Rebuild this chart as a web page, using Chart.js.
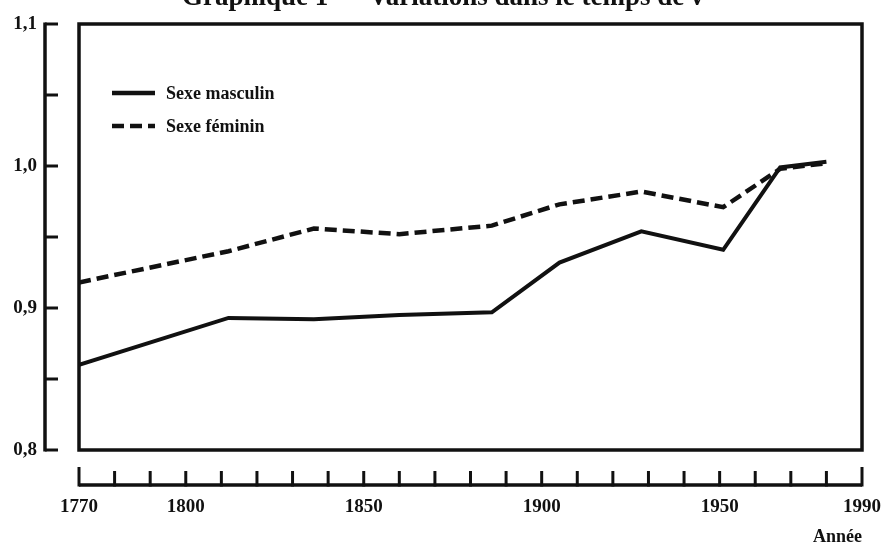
<!DOCTYPE html>
<html>
<head>
<meta charset="utf-8">
<script src="https://cdn.jsdelivr.net/npm/chart.js@4/dist/chart.umd.min.js"></script>
<style>
  html, body { margin: 0; padding: 0; background: #fff; }
  #wrap { width: 885px; height: 552px; position: relative; }
</style>
</head>
<body>
<div id="wrap"><canvas id="c" width="885" height="552"></canvas></div>
<script>
// ---- data ----
const chartTitle = "Graphique 1 — Variations dans le temps de ν";
const years = [1770, 1812, 1836, 1860, 1886, 1905, 1928, 1951, 1967, 1980];
const masculin = [0.860, 0.893, 0.892, 0.895, 0.897, 0.932, 0.954, 0.941, 0.999, 1.003];
const feminin = [0.918, 0.940, 0.956, 0.952, 0.958, 0.973, 0.982, 0.971, 0.998, 1.002];
const seriesLabels = ["Sexe masculin", "Sexe féminin"];
const xTickYears = [1770, 1780, 1790, 1800, 1810, 1820, 1830, 1840, 1850, 1860, 1870, 1880, 1890, 1900, 1910, 1920, 1930, 1940, 1950, 1960, 1970, 1980, 1990];
const xLabelYears = [1770, 1800, 1850, 1900, 1950, 1990];
const yTickValues = [0.80, 0.85, 0.90, 0.95, 1.00, 1.05, 1.10];
const yLabelValues = [0.8, 0.9, 1.0, 1.1];
const xAxisTitle = "Année";

const FONT = "'Liberation Serif', 'Times New Roman', serif";
const INK = '#111';

const decorPlugin = {
  id: 'decor',
  afterDraw(chart) {
    const ctx = chart.ctx;
    const ca = chart.chartArea;
    const xs = chart.scales.x, ys = chart.scales.y;
    ctx.save();
    ctx.strokeStyle = INK;
    ctx.fillStyle = INK;
    ctx.lineCap = 'butt';
    // frame round plot area
    ctx.lineWidth = 3.5;
    ctx.strokeRect(ca.left, ca.top, ca.right - ca.left, ca.bottom - ca.top);

    // separate y axis line with ticks to the right
    const axX = ca.left - 34;
    const yTop = ys.getPixelForValue(ys.max), yBot = ys.getPixelForValue(ys.min);
    ctx.lineWidth = 3.5;
    ctx.beginPath();
    ctx.moveTo(axX, yTop - 1.5); ctx.lineTo(axX, yBot + 1.5);
    ctx.stroke();
    ctx.lineWidth = 3;
    yTickValues.forEach(v => {
      const py = ys.getPixelForValue(v);
      ctx.beginPath(); ctx.moveTo(axX, py); ctx.lineTo(axX + 13, py); ctx.stroke();
    });

    // separate x axis line with ticks upward
    const axY = ca.bottom + 35;
    ctx.lineWidth = 3.5;
    ctx.beginPath();
    ctx.moveTo(xs.getPixelForValue(xs.min), axY); ctx.lineTo(xs.getPixelForValue(xs.max), axY);
    ctx.stroke();
    ctx.lineWidth = 3;
    xTickYears.forEach((v, i) => {
      const px = xs.getPixelForValue(v);
      const len = (i === 0 || i === xTickYears.length - 1) ? 18 : 14;
      ctx.beginPath(); ctx.moveTo(px, axY + 1.5); ctx.lineTo(px, axY - len); ctx.stroke();
    });

    // legend inside plot area
    const items = chart.data.datasets;
    const lx0 = ca.left + 33, lx1 = ca.left + 76, ly0 = ca.top + 69, dy = 33;
    items.forEach((ds, i) => {
      const y = ly0 + i * dy;
      ctx.lineWidth = 4.5;
      ctx.setLineDash(ds.borderDash || []);
      ctx.beginPath(); ctx.moveTo(lx0, y); ctx.lineTo(lx1, y); ctx.stroke();
      ctx.setLineDash([]);
      ctx.font = "bold 18px " + FONT;
      ctx.textBaseline = 'middle';
      ctx.textAlign = 'left';
      ctx.fillText(ds.label, lx1 + 11, y + 1);
    });

    // title, cut at the top edge of the picture
    ctx.font = "bold 27px " + FONT;
    ctx.textAlign = 'center';
    ctx.textBaseline = 'alphabetic';
    ctx.fillText(chartTitle, chart.width / 2, 5);
    ctx.restore();
  }
};

new Chart(document.getElementById('c'), {
  type: 'line',
  data: {
    datasets: [
      { label: seriesLabels[0], data: years.map((y, i) => ({ x: y, y: masculin[i] })),
        borderColor: INK, borderWidth: 4, pointRadius: 0, tension: 0, fill: false },
      { label: seriesLabels[1], data: years.map((y, i) => ({ x: y, y: feminin[i] })),
        borderColor: INK, borderWidth: 4.5, borderDash: [12, 6], pointRadius: 0, tension: 0, fill: false }
    ]
  },
  options: {
    responsive: false,
    animation: false,
    layout: { padding: { top: 24, right: 23, left: 0, bottom: 0 } },
    plugins: { legend: { display: false }, tooltip: { enabled: false }, title: { display: false } },
    scales: {
      x: {
        type: 'linear', min: 1770, max: 1990,
        afterBuildTicks: s => { s.ticks = xTickYears.map(v => ({ value: v })); },
        afterFit: s => { s.height = 102; },
        grid: { display: true, drawOnChartArea: false, drawTicks: true, tickLength: 44, color: 'rgba(0,0,0,0)' },
        border: { display: false },
        ticks: {
          autoSkip: false, maxRotation: 0, padding: 2, color: INK,
          font: { family: FONT, size: 19, weight: 'bold' },
          callback: v => xLabelYears.includes(v) ? String(v) : ''
        },
        title: { display: true, text: xAxisTitle, align: 'end', color: INK,
          font: { family: FONT, size: 18, weight: 'bold' }, padding: { top: 0, bottom: 4 } }
      },
      y: {
        type: 'linear', min: 0.8, max: 1.1,
        afterBuildTicks: s => { s.ticks = yTickValues.map(v => ({ value: v })); },
        afterFit: s => { s.width = 79; },
        grid: { display: true, drawOnChartArea: false, drawTicks: true, tickLength: 40, color: 'rgba(0,0,0,0)' },
        border: { display: false },
        ticks: {
          padding: 2, color: INK,
          font: { family: FONT, size: 19, weight: 'bold' },
          callback: v => yLabelValues.some(l => Math.abs(l - v) < 1e-6) ? v.toFixed(1).replace('.', ',') : ''
        }
      }
    }
  },
  plugins: [decorPlugin]
});
</script>
</body>
</html>
